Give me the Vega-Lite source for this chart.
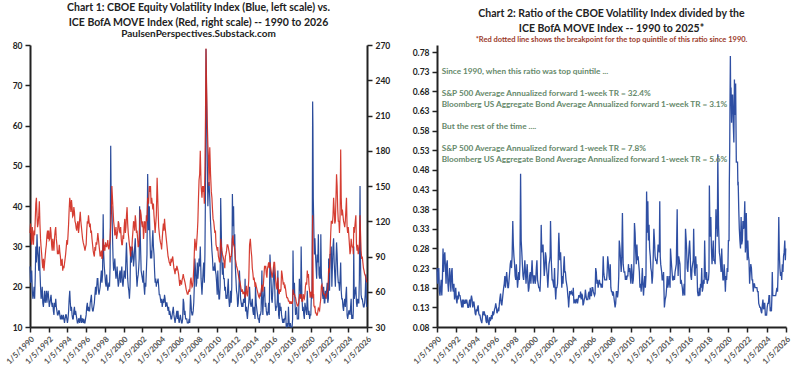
{
"$schema": "https://vega.github.io/schema/vega-lite/v6.json",
"background": "white",
"padding": {"left": 5, "top": 2, "right": 5, "bottom": 0},
"config": {"font": "Lato", "view": {"stroke": null}, "concat": {"spacing": 22},
  "axis": {"grid": false, "domainColor": "#222", "domainWidth": 2, "tickColor": "#222", "tickWidth": 1.5, "tickSize": 5, "labelFontWeight": "bold", "labelColor": "#222", "labelFontSize": 8.5, "labelPadding": 3, "labelOverlap": false},
  "title": {"fontSize": 10.5, "fontWeight": "bold", "color": "#222", "lineHeight": 15, "anchor": "middle", "offset": 2, "subtitlePadding": 1}},
"datasets": {
"s": [
{"d":"1990-01-05","v":25,"m":110,"r":0.23},{"d":"1990-02-20","v":22,"m":105,"r":0.21},{"d":"1990-04-05","v":19,"m":115,"r":0.17},{"d":"1990-05-20","v":18,"m":100,"r":0.18},{"d":"1990-07-05","v":17,"m":108,"r":0.16},{"d":"1990-08-20","v":30,"m":135,"r":0.28},{"d":"1990-10-05","v":33,"m":125,"r":0.26},{"d":"1990-11-20","v":27,"m":118,"r":0.23},
{"d":"1991-01-05","v":30,"m":137,"r":0.24},{"d":"1991-02-20","v":20,"m":105,"r":0.19},{"d":"1991-04-05","v":18,"m":92,"r":0.20},{"d":"1991-05-20","v":16,"m":80,"r":0.20},{"d":"1991-07-05","v":17,"m":78,"r":0.22},{"d":"1991-08-20","v":16,"m":90,"r":0.18},{"d":"1991-10-05","v":19,"m":100,"r":0.19},{"d":"1991-11-20","v":18,"m":112,"r":0.16},
{"d":"1992-01-05","v":17,"m":112,"r":0.15},{"d":"1992-02-20","v":16,"m":105,"r":0.16},{"d":"1992-04-05","v":18,"m":110,"r":0.17},{"d":"1992-05-20","v":15,"m":95,"r":0.16},{"d":"1992-07-05","v":14,"m":100,"r":0.14},{"d":"1992-08-20","v":16,"m":106,"r":0.15},{"d":"1992-10-05","v":17,"m":115,"r":0.15},{"d":"1992-11-20","v":14,"m":100,"r":0.14},
{"d":"1993-01-05","v":13,"m":95,"r":0.14},{"d":"1993-02-20","v":14,"m":100,"r":0.14},{"d":"1993-04-05","v":12,"m":90,"r":0.13},{"d":"1993-05-20","v":13,"m":85,"r":0.15},{"d":"1993-07-05","v":12,"m":78,"r":0.15},{"d":"1993-08-20","v":12,"m":80,"r":0.15},{"d":"1993-10-05","v":12,"m":88,"r":0.14},{"d":"1993-11-20","v":13,"m":98,"r":0.13},
{"d":"1994-01-05","v":11,"m":100,"r":0.11},{"d":"1994-02-20","v":14,"m":118,"r":0.12},{"d":"1994-04-05","v":19,"m":140,"r":0.135},{"d":"1994-05-20","v":14,"m":128,"r":0.11},{"d":"1994-07-05","v":13,"m":132,"r":0.10},{"d":"1994-08-20","v":12,"m":125,"r":0.09},{"d":"1994-10-05","v":15,"m":128,"r":0.12},{"d":"1994-11-20","v":14,"m":118,"r":0.12},
{"d":"1995-01-05","v":12,"m":112,"r":0.11},{"d":"1995-02-20","v":11,"m":120,"r":0.09},{"d":"1995-04-05","v":12,"m":115,"r":0.10},{"d":"1995-05-20","v":12,"m":128,"r":0.085},{"d":"1995-07-05","v":11,"m":115,"r":0.095},{"d":"1995-08-20","v":12,"m":105,"r":0.11},{"d":"1995-10-05","v":12,"m":100,"r":0.12},{"d":"1995-11-20","v":11,"m":95,"r":0.115},
{"d":"1996-01-05","v":13,"m":100,"r":0.13},{"d":"1996-02-20","v":16,"m":120,"r":0.13},{"d":"1996-04-05","v":15,"m":125,"r":0.12},{"d":"1996-05-20","v":14,"m":115,"r":0.12},{"d":"1996-07-05","v":17,"m":110,"r":0.155},{"d":"1996-08-20","v":15,"m":105,"r":0.14},{"d":"1996-10-05","v":14,"m":95,"r":0.15},{"d":"1996-11-20","v":16,"m":90,"r":0.18},
{"d":"1997-01-05","v":20,"m":95,"r":0.21},{"d":"1997-02-20","v":20,"m":100,"r":0.2},{"d":"1997-04-05","v":22,"m":110,"r":0.2},{"d":"1997-05-20","v":18,"m":100,"r":0.18},{"d":"1997-07-05","v":20,"m":90,"r":0.22},{"d":"1997-08-20","v":24,"m":95,"r":0.25},{"d":"1997-10-05","v":23,"m":90,"r":0.26},{"d":"1997-10-30","v":38,"m":105,"r":0.35},{"d":"1997-11-20","v":28,"m":95,"r":0.29},
{"d":"1998-01-05","v":23,"m":95,"r":0.24},{"d":"1998-02-20","v":20,"m":100,"r":0.2},{"d":"1998-04-05","v":21,"m":100,"r":0.21},{"d":"1998-05-20","v":20,"m":98,"r":0.2},{"d":"1998-07-05","v":20,"m":100,"r":0.2},{"d":"1998-08-20","v":55,"m":117,"r":0.47},{"d":"1998-10-05","v":40,"m":150,"r":0.27},{"d":"1998-11-20","v":27,"m":130,"r":0.21},
{"d":"1999-01-05","v":25,"m":115,"r":0.22},{"d":"1999-02-20","v":24,"m":110,"r":0.22},{"d":"1999-04-05","v":23,"m":105,"r":0.22},{"d":"1999-05-20","v":22,"m":112,"r":0.2},{"d":"1999-07-05","v":21,"m":118,"r":0.18},{"d":"1999-08-20","v":24,"m":110,"r":0.22},{"d":"1999-10-05","v":23,"m":105,"r":0.22},{"d":"1999-11-20","v":21,"m":100,"r":0.21},
{"d":"2000-01-05","v":22,"m":105,"r":0.21},{"d":"2000-02-20","v":23,"m":122,"r":0.19},{"d":"2000-04-05","v":27,"m":115,"r":0.23},{"d":"2000-05-20","v":26,"m":132,"r":0.2},{"d":"2000-07-05","v":20,"m":110,"r":0.18},{"d":"2000-08-20","v":17,"m":100,"r":0.17},{"d":"2000-10-05","v":30,"m":90,"r":0.34},{"d":"2000-11-20","v":27,"m":95,"r":0.28},
{"d":"2001-01-05","v":28,"m":112,"r":0.25},{"d":"2001-02-20","v":27,"m":118,"r":0.23},{"d":"2001-04-05","v":32,"m":125,"r":0.26},{"d":"2001-05-20","v":23,"m":110,"r":0.21},{"d":"2001-07-05","v":22,"m":105,"r":0.21},{"d":"2001-08-20","v":25,"m":100,"r":0.25},{"d":"2001-09-21","v":40,"m":115,"r":0.35},{"d":"2001-11-20","v":24,"m":125,"r":0.2},
{"d":"2002-01-05","v":22,"m":115,"r":0.19},{"d":"2002-02-20","v":24,"m":105,"r":0.23},{"d":"2002-04-05","v":18,"m":120,"r":0.15},{"d":"2002-05-20","v":20,"m":110,"r":0.18},{"d":"2002-07-05","v":28,"m":120,"r":0.23},{"d":"2002-08-01","v":48,"m":140,"r":0.32},{"d":"2002-10-05","v":40,"m":150,"r":0.27},{"d":"2002-11-20","v":27,"m":150,"r":0.18},
{"d":"2003-01-05","v":27,"m":140,"r":0.19},{"d":"2003-02-20","v":34,"m":130,"r":0.26},{"d":"2003-04-05","v":28,"m":125,"r":0.22},{"d":"2003-05-20","v":21,"m":110,"r":0.19},{"d":"2003-07-05","v":20,"m":125,"r":0.16},{"d":"2003-08-05","v":21,"m":157,"r":0.13},{"d":"2003-10-05","v":20,"m":115,"r":0.17},{"d":"2003-11-20","v":18,"m":105,"r":0.17},
{"d":"2004-01-05","v":16,"m":100,"r":0.16},{"d":"2004-02-20","v":15,"m":105,"r":0.14},{"d":"2004-04-05","v":17,"m":118,"r":0.15},{"d":"2004-05-20","v":18,"m":122,"r":0.15},{"d":"2004-07-05","v":15,"m":110,"r":0.14},{"d":"2004-08-20","v":16,"m":100,"r":0.16},{"d":"2004-10-05","v":14,"m":90,"r":0.155},{"d":"2004-11-20","v":13,"m":85,"r":0.15},
{"d":"2005-01-05","v":13,"m":82,"r":0.16},{"d":"2005-02-20","v":12,"m":85,"r":0.14},{"d":"2005-04-05","v":14,"m":90,"r":0.155},{"d":"2005-05-20","v":13,"m":80,"r":0.16},{"d":"2005-07-05","v":11,"m":75,"r":0.15},{"d":"2005-08-20","v":13,"m":78,"r":0.165},{"d":"2005-10-05","v":12,"m":80,"r":0.15},{"d":"2005-11-20","v":12,"m":75,"r":0.16},
{"d":"2006-01-05","v":12,"m":65,"r":0.18},{"d":"2006-02-20","v":12,"m":68,"r":0.17},{"d":"2006-04-05","v":11,"m":70,"r":0.16},{"d":"2006-05-20","v":17,"m":75,"r":0.23},{"d":"2006-07-05","v":13,"m":70,"r":0.19},{"d":"2006-08-20","v":12,"m":65,"r":0.18},{"d":"2006-10-05","v":12,"m":60,"r":0.2},{"d":"2006-11-20","v":11,"m":58,"r":0.19},
{"d":"2007-01-05","v":12,"m":62,"r":0.19},{"d":"2007-02-27","v":18,"m":70,"r":0.26},{"d":"2007-04-05","v":14,"m":68,"r":0.21},{"d":"2007-05-20","v":13,"m":65,"r":0.2},{"d":"2007-07-05","v":16,"m":80,"r":0.2},{"d":"2007-08-15","v":27,"m":105,"r":0.26},{"d":"2007-10-05","v":20,"m":95,"r":0.21},{"d":"2007-11-20","v":26,"m":110,"r":0.24},
{"d":"2008-01-05","v":24,"m":140,"r":0.17},{"d":"2008-02-20","v":25,"m":160,"r":0.16},{"d":"2008-03-15","v":30,"m":180,"r":0.17},{"d":"2008-05-20","v":18,"m":140,"r":0.13},{"d":"2008-07-05","v":24,"m":145,"r":0.17},{"d":"2008-08-20","v":21,"m":135,"r":0.155},{"d":"2008-10-05","v":45,"m":210,"r":0.21},{"d":"2008-10-24","v":79,"m":267,"r":0.3},{"d":"2008-11-20","v":65,"m":230,"r":0.28},
{"d":"2009-01-05","v":40,"m":185,"r":0.22},{"d":"2009-02-20","v":46,"m":150,"r":0.37},{"d":"2009-03-20","v":42,"m":183,"r":0.24},{"d":"2009-05-20","v":32,"m":145,"r":0.22},{"d":"2009-07-05","v":27,"m":130,"r":0.21},{"d":"2009-08-20","v":25,"m":120,"r":0.21},{"d":"2009-10-05","v":26,"m":110,"r":0.24},{"d":"2009-11-20","v":23,"m":100,"r":0.23},
{"d":"2010-01-05","v":18,"m":95,"r":0.19},{"d":"2010-02-20","v":20,"m":90,"r":0.22},{"d":"2010-04-05","v":17,"m":85,"r":0.2},{"d":"2010-05-20","v":42,"m":105,"r":0.345},{"d":"2010-07-05","v":26,"m":95,"r":0.27},{"d":"2010-08-20","v":26,"m":90,"r":0.29},{"d":"2010-10-05","v":22,"m":85,"r":0.26},{"d":"2010-11-20","v":20,"m":90,"r":0.22},
{"d":"2011-01-05","v":18,"m":95,"r":0.19},{"d":"2011-02-20","v":20,"m":100,"r":0.2},{"d":"2011-04-05","v":17,"m":95,"r":0.18},{"d":"2011-05-20","v":16,"m":85,"r":0.19},{"d":"2011-07-05","v":16,"m":90,"r":0.18},{"d":"2011-08-20","v":43,"m":105,"r":0.425},{"d":"2011-10-05","v":40,"m":100,"r":0.4},{"d":"2011-11-20","v":33,"m":95,"r":0.34},
{"d":"2012-01-05","v":22,"m":85,"r":0.26},{"d":"2012-02-20","v":18,"m":80,"r":0.22},{"d":"2012-04-05","v":16,"m":75,"r":0.21},{"d":"2012-05-20","v":24,"m":70,"r":0.33},{"d":"2012-07-05","v":17,"m":65,"r":0.26},{"d":"2012-08-20","v":15,"m":60,"r":0.25},{"d":"2012-10-05","v":15,"m":58,"r":0.26},{"d":"2012-11-20","v":16,"m":58,"r":0.28},{"d":"2012-12-28","v":22,"m":55,"r":0.4},
{"d":"2013-02-01","v":14,"m":62,"r":0.24},{"d":"2013-03-10","v":13,"m":58,"r":0.22},{"d":"2013-04-20","v":14,"m":60,"r":0.2},{"d":"2013-06-20","v":20,"m":100,"r":0.13},{"d":"2013-08-20","v":15,"m":95,"r":0.16},{"d":"2013-10-05","v":17,"m":80,"r":0.21},{"d":"2013-11-20","v":13,"m":70,"r":0.19},
{"d":"2014-01-05","v":13,"m":68,"r":0.19},{"d":"2014-02-05","v":20,"m":68,"r":0.28},{"d":"2014-04-05","v":14,"m":62,"r":0.22},{"d":"2014-05-20","v":12,"m":58,"r":0.2},{"d":"2014-07-05","v":11,"m":55,"r":0.2},{"d":"2014-08-20","v":13,"m":57,"r":0.23},{"d":"2014-10-15","v":24,"m":66,"r":0.38},{"d":"2014-11-20","v":13,"m":60,"r":0.21},
{"d":"2015-01-05","v":19,"m":75,"r":0.25},{"d":"2015-02-20","v":15,"m":80,"r":0.19},{"d":"2015-04-05","v":14,"m":75,"r":0.19},{"d":"2015-05-20","v":13,"m":80,"r":0.16},{"d":"2015-07-05","v":16,"m":85,"r":0.19},{"d":"2015-08-25","v":28,"m":85,"r":0.33},{"d":"2015-10-05","v":22,"m":78,"r":0.28},{"d":"2015-11-20","v":16,"m":72,"r":0.22},
{"d":"2016-01-05","v":22,"m":80,"r":0.28},{"d":"2016-02-20","v":22,"m":85,"r":0.26},{"d":"2016-04-05","v":14,"m":70,"r":0.2},{"d":"2016-05-20","v":15,"m":62,"r":0.24},{"d":"2016-06-27","v":24,"m":72,"r":0.33},{"d":"2016-08-20","v":12,"m":58,"r":0.21},{"d":"2016-10-05","v":14,"m":60,"r":0.23},{"d":"2016-11-20","v":13,"m":78,"r":0.17},
{"d":"2017-01-05","v":11,"m":70,"r":0.16},{"d":"2017-02-20","v":11,"m":68,"r":0.16},{"d":"2017-04-05","v":12,"m":65,"r":0.18},{"d":"2017-05-20","v":10,"m":58,"r":0.17},{"d":"2017-07-05","v":11,"m":55,"r":0.2},{"d":"2017-08-15","v":15,"m":52,"r":0.3},{"d":"2017-10-05","v":10,"m":50,"r":0.2},{"d":"2017-11-20","v":10,"m":52,"r":0.19},
{"d":"2018-01-05","v":10,"m":50,"r":0.2},{"d":"2018-02-09","v":29,"m":62,"r":0.44},{"d":"2018-04-05","v":21,"m":58,"r":0.36},{"d":"2018-05-20","v":13,"m":55,"r":0.24},{"d":"2018-07-05","v":15,"m":50,"r":0.3},{"d":"2018-08-20","v":12,"m":48,"r":0.25},{"d":"2018-10-15","v":22,"m":55,"r":0.38},{"d":"2018-11-20","v":20,"m":55,"r":0.36},{"d":"2018-12-24","v":30,"m":58,"r":0.52},
{"d":"2019-01-20","v":18,"m":52,"r":0.34},{"d":"2019-02-20","v":14,"m":52,"r":0.27},{"d":"2019-04-05","v":13,"m":55,"r":0.24},{"d":"2019-05-20","v":16,"m":58,"r":0.28},{"d":"2019-07-05","v":14,"m":68,"r":0.2},{"d":"2019-08-20","v":19,"m":78,"r":0.24},{"d":"2019-10-05","v":13,"m":75,"r":0.17},{"d":"2019-11-20","v":12,"m":60,"r":0.2},
{"d":"2020-01-05","v":13,"m":60,"r":0.22},{"d":"2020-02-20","v":17,"m":55,"r":0.3},{"d":"2020-03-16","v":66,"m":125,"r":0.53},{"d":"2020-04-10","v":42,"m":55,"r":0.77},{"d":"2020-05-05","v":33,"m":48,"r":0.69},{"d":"2020-05-25","v":28,"m":47,"r":0.6},{"d":"2020-07-05","v":28,"m":42,"r":0.67},{"d":"2020-08-20","v":22,"m":40,"r":0.55},{"d":"2020-09-10","v":28,"m":40,"r":0.71},{"d":"2020-10-25","v":33,"m":46,"r":0.7},{"d":"2020-11-20","v":23,"m":45,"r":0.5},
{"d":"2021-01-05","v":25,"m":50,"r":0.5},{"d":"2021-01-29","v":33,"m":55,"r":0.45},{"d":"2021-02-20","v":23,"m":65,"r":0.38},{"d":"2021-04-05","v":18,"m":62,"r":0.3},{"d":"2021-05-20","v":20,"m":58,"r":0.36},{"d":"2021-07-05","v":16,"m":58,"r":0.3},{"d":"2021-08-20","v":17,"m":55,"r":0.33},{"d":"2021-10-05","v":21,"m":60,"r":0.4},{"d":"2021-11-20","v":17,"m":70,"r":0.3},{"d":"2021-12-01","v":27,"m":80,"r":0.37},
{"d":"2022-01-05","v":19,"m":80,"r":0.25},{"d":"2022-02-20","v":28,"m":110,"r":0.26},{"d":"2022-04-05","v":20,"m":120,"r":0.19},{"d":"2022-05-20","v":30,"m":125,"r":0.24},{"d":"2022-07-05","v":26,"m":130,"r":0.2},{"d":"2022-08-20","v":20,"m":120,"r":0.17},{"d":"2022-10-05","v":31,"m":160,"r":0.19},{"d":"2022-11-20","v":23,"m":130,"r":0.18},
{"d":"2023-01-05","v":21,"m":120,"r":0.18},{"d":"2023-02-20","v":22,"m":125,"r":0.17},{"d":"2023-03-15","v":26,"m":181,"r":0.14},{"d":"2023-05-20","v":17,"m":130,"r":0.13},{"d":"2023-07-05","v":14,"m":120,"r":0.115},{"d":"2023-08-20","v":17,"m":115,"r":0.15},{"d":"2023-10-05","v":18,"m":130,"r":0.14},{"d":"2023-11-20","v":13,"m":115,"r":0.11},
{"d":"2024-01-05","v":13,"m":115,"r":0.11},{"d":"2024-02-20","v":14,"m":100,"r":0.14},{"d":"2024-04-05","v":15,"m":95,"r":0.16},{"d":"2024-05-20","v":12,"m":100,"r":0.12},{"d":"2024-07-05","v":12,"m":98,"r":0.12},{"d":"2024-08-06","v":30,"m":115,"r":0.22},{"d":"2024-10-05","v":19,"m":120,"r":0.16},{"d":"2024-11-20","v":16,"m":100,"r":0.16},
{"d":"2025-01-05","v":17,"m":100,"r":0.17},{"d":"2025-02-20","v":16,"m":95,"r":0.17},{"d":"2025-04-08","v":45,"m":125,"r":0.36},{"d":"2025-05-20","v":18,"m":95,"r":0.23},{"d":"2025-07-05","v":17,"m":90,"r":0.22},{"d":"2025-08-20","v":15,"m":80,"r":0.24},{"d":"2025-10-05","v":16,"m":75,"r":0.26},{"d":"2025-11-20","v":23,"m":72,"r":0.3},{"d":"2025-12-26","v":15,"m":68,"r":0.28},
{"d":"1990-01-27","v":21,"m":118,"r":0.19},{"d":"1990-03-13","v":24,"m":100,"r":0.23},{"d":"1990-04-27","v":17,"m":108,"r":0.16},{"d":"1990-06-12","v":20,"m":112,"r":0.2},{"d":"1990-07-27","v":22,"m":120,"r":0.2},{"d":"1990-09-12","v":26,"m":140,"r":0.22},{"d":"1990-10-27","v":29,"m":115,"r":0.27},{"d":"1990-12-12","v":24,"m":125,"r":0.19},
{"d":"1991-01-27","v":24,"m":118,"r":0.25},{"d":"1991-03-13","v":17,"m":98,"r":0.17},{"d":"1991-04-27","v":20,"m":85,"r":0.23},{"d":"1991-06-12","v":15,"m":88,"r":0.17},{"d":"1991-07-27","v":19,"m":84,"r":0.23},{"d":"1991-09-12","v":17,"m":96,"r":0.17},{"d":"1991-10-27","v":16,"m":108,"r":0.15},{"d":"1991-12-12","v":19,"m":105,"r":0.18},
{"d":"1992-01-27","v":15,"m":104,"r":0.14},{"d":"1992-03-13","v":17,"m":115,"r":0.15},{"d":"1992-04-27","v":16,"m":100,"r":0.16},{"d":"1992-06-12","v":16,"m":105,"r":0.15},{"d":"1992-07-27","v":13,"m":95,"r":0.13},{"d":"1992-09-12","v":15,"m":112,"r":0.13},{"d":"1992-10-27","v":15,"m":105,"r":0.14},{"d":"1992-12-12","v":13,"m":92,"r":0.15},
{"d":"1993-01-27","v":14,"m":92,"r":0.15},{"d":"1993-03-13","v":13,"m":94,"r":0.13},{"d":"1993-04-27","v":12,"m":82,"r":0.14},{"d":"1993-06-12","v":12,"m":88,"r":0.13},{"d":"1993-07-27","v":13,"m":82,"r":0.16},{"d":"1993-09-12","v":11,"m":84,"r":0.13},{"d":"1993-10-27","v":13,"m":92,"r":0.145},{"d":"1993-12-12","v":12,"m":104,"r":0.115},
{"d":"1994-01-27","v":12,"m":108,"r":0.125},{"d":"1994-03-13","v":17,"m":130,"r":0.13},{"d":"1994-04-27","v":16,"m":135,"r":0.115},{"d":"1994-06-12","v":15,"m":138,"r":0.11},{"d":"1994-07-27","v":12,"m":124,"r":0.095},{"d":"1994-09-12","v":14,"m":132,"r":0.105},{"d":"1994-10-27","v":13,"m":120,"r":0.11},{"d":"1994-12-12","v":13,"m":114,"r":0.11},
{"d":"1995-01-27","v":11,"m":118,"r":0.095},{"d":"1995-03-13","v":12,"m":110,"r":0.11},{"d":"1995-04-27","v":11,"m":122,"r":0.09},{"d":"1995-06-12","v":13,"m":120,"r":0.105},{"d":"1995-07-27","v":12,"m":110,"r":0.1},{"d":"1995-09-12","v":11,"m":102,"r":0.1},{"d":"1995-10-27","v":11,"m":98,"r":0.11},{"d":"1995-12-12","v":12,"m":98,"r":0.125},
{"d":"1996-01-27","v":15,"m":112,"r":0.14},{"d":"1996-03-13","v":14,"m":118,"r":0.115},{"d":"1996-04-27","v":14,"m":120,"r":0.125},{"d":"1996-06-12","v":16,"m":118,"r":0.14},{"d":"1996-07-27","v":18,"m":112,"r":0.165},{"d":"1996-09-12","v":14,"m":100,"r":0.135},{"d":"1996-10-27","v":15,"m":92,"r":0.165},{"d":"1996-12-12","v":18,"m":98,"r":0.19},
{"d":"1997-01-27","v":18,"m":102,"r":0.18},{"d":"1997-03-13","v":22,"m":104,"r":0.22},{"d":"1997-04-27","v":19,"m":105,"r":0.18},{"d":"1997-06-12","v":19,"m":95,"r":0.2},{"d":"1997-07-27","v":22,"m":92,"r":0.24},{"d":"1997-09-12","v":21,"m":88,"r":0.23},{"d":"1997-12-12","v":25,"m":100,"r":0.26},
{"d":"1998-01-27","v":21,"m":102,"r":0.21},{"d":"1998-03-13","v":23,"m":98,"r":0.24},{"d":"1998-04-27","v":19,"m":104,"r":0.18},{"d":"1998-06-12","v":21,"m":96,"r":0.22},{"d":"1998-07-27","v":25,"m":105,"r":0.24},{"d":"1998-09-12","v":38,"m":125,"r":0.3},{"d":"1998-10-27","v":33,"m":140,"r":0.24},{"d":"1998-12-12","v":24,"m":120,"r":0.2},
{"d":"1999-01-27","v":27,"m":108,"r":0.25},{"d":"1999-03-13","v":22,"m":115,"r":0.19},{"d":"1999-04-27","v":25,"m":108,"r":0.24},{"d":"1999-06-12","v":20,"m":120,"r":0.17},{"d":"1999-07-27","v":23,"m":112,"r":0.21},{"d":"1999-09-12","v":21,"m":115,"r":0.19},{"d":"1999-10-27","v":25,"m":100,"r":0.25},{"d":"1999-12-12","v":20,"m":108,"r":0.19},
{"d":"2000-01-27","v":24,"m":115,"r":0.21},{"d":"2000-03-13","v":22,"m":110,"r":0.2},{"d":"2000-04-27","v":31,"m":125,"r":0.25},{"d":"2000-06-12","v":22,"m":118,"r":0.19},{"d":"2000-07-27","v":19,"m":105,"r":0.18},{"d":"2000-09-12","v":20,"m":95,"r":0.21},{"d":"2000-10-27","v":26,"m":98,"r":0.27},{"d":"2000-12-12","v":30,"m":105,"r":0.29},
{"d":"2001-01-27","v":25,"m":120,"r":0.21},{"d":"2001-03-13","v":30,"m":112,"r":0.27},{"d":"2001-04-27","v":27,"m":120,"r":0.23},{"d":"2001-06-12","v":20,"m":112,"r":0.18},{"d":"2001-07-27","v":23,"m":98,"r":0.24},{"d":"2001-09-05","v":27,"m":105,"r":0.26},{"d":"2001-10-20","v":32,"m":130,"r":0.25},{"d":"2001-12-12","v":23,"m":118,"r":0.2},
{"d":"2002-01-27","v":21,"m":120,"r":0.18},{"d":"2002-03-13","v":20,"m":112,"r":0.18},{"d":"2002-04-27","v":21,"m":118,"r":0.18},{"d":"2002-06-12","v":24,"m":125,"r":0.19},{"d":"2002-07-18","v":38,"m":130,"r":0.29},{"d":"2002-09-05","v":34,"m":135,"r":0.25},{"d":"2002-10-27","v":33,"m":145,"r":0.23},{"d":"2002-12-12","v":29,"m":135,"r":0.21},
{"d":"2003-01-27","v":31,"m":135,"r":0.23},{"d":"2003-03-13","v":30,"m":135,"r":0.22},{"d":"2003-04-27","v":24,"m":118,"r":0.2},{"d":"2003-06-12","v":22,"m":118,"r":0.18},{"d":"2003-07-20","v":21,"m":140,"r":0.15},{"d":"2003-09-12","v":22,"m":130,"r":0.17},{"d":"2003-10-27","v":18,"m":110,"r":0.165},{"d":"2003-12-12","v":17,"m":102,"r":0.165},
{"d":"2004-01-27","v":17,"m":96,"r":0.18},{"d":"2004-03-13","v":16,"m":112,"r":0.145},{"d":"2004-04-27","v":16,"m":112,"r":0.14},{"d":"2004-06-12","v":17,"m":115,"r":0.15},{"d":"2004-07-27","v":16,"m":105,"r":0.15},{"d":"2004-09-12","v":15,"m":95,"r":0.16},{"d":"2004-10-27","v":15,"m":88,"r":0.17},{"d":"2004-12-12","v":14,"m":84,"r":0.165},
{"d":"2005-01-27","v":12,"m":88,"r":0.135},{"d":"2005-03-13","v":13,"m":88,"r":0.15},{"d":"2005-04-27","v":15,"m":85,"r":0.175},{"d":"2005-06-12","v":12,"m":78,"r":0.15},{"d":"2005-07-27","v":12,"m":80,"r":0.15},{"d":"2005-09-12","v":14,"m":82,"r":0.17},{"d":"2005-10-27","v":14,"m":78,"r":0.18},{"d":"2005-12-12","v":11,"m":70,"r":0.16},
{"d":"2006-01-27","v":13,"m":70,"r":0.18},{"d":"2006-03-13","v":11,"m":66,"r":0.165},{"d":"2006-04-27","v":12,"m":72,"r":0.165},{"d":"2006-06-12","v":16,"m":72,"r":0.22},{"d":"2006-07-27","v":14,"m":68,"r":0.2},{"d":"2006-09-12","v":12,"m":62,"r":0.19},{"d":"2006-10-27","v":11,"m":58,"r":0.19},{"d":"2006-12-12","v":11,"m":60,"r":0.18},
{"d":"2007-01-27","v":11,"m":60,"r":0.18},{"d":"2007-03-20","v":16,"m":72,"r":0.22},{"d":"2007-04-27","v":13,"m":64,"r":0.2},{"d":"2007-06-12","v":14,"m":70,"r":0.2},{"d":"2007-07-25","v":20,"m":92,"r":0.22},{"d":"2007-09-12","v":24,"m":100,"r":0.24},{"d":"2007-10-27","v":21,"m":102,"r":0.2},{"d":"2007-12-12","v":22,"m":120,"r":0.18},
{"d":"2008-01-27","v":27,"m":155,"r":0.17},{"d":"2008-04-15","v":22,"m":150,"r":0.15},{"d":"2008-06-12","v":21,"m":150,"r":0.14},{"d":"2008-07-27","v":26,"m":150,"r":0.17},{"d":"2008-09-12","v":28,"m":165,"r":0.17},{"d":"2008-12-12","v":52,"m":205,"r":0.25},
{"d":"2009-01-27","v":45,"m":175,"r":0.26},{"d":"2009-04-20","v":36,"m":160,"r":0.22},{"d":"2009-06-12","v":29,"m":140,"r":0.2},{"d":"2009-07-27","v":24,"m":122,"r":0.2},{"d":"2009-09-12","v":24,"m":115,"r":0.21},{"d":"2009-10-27","v":24,"m":112,"r":0.22},{"d":"2009-12-12","v":21,"m":98,"r":0.21},
{"d":"2010-01-27","v":24,"m":98,"r":0.24},{"d":"2010-03-13","v":17,"m":88,"r":0.19},{"d":"2010-04-27","v":20,"m":88,"r":0.23},{"d":"2010-06-12","v":34,"m":100,"r":0.32},{"d":"2010-07-27","v":23,"m":92,"r":0.24},{"d":"2010-09-12","v":22,"m":88,"r":0.25},{"d":"2010-10-27","v":19,"m":80,"r":0.24},{"d":"2010-12-12","v":17,"m":92,"r":0.18},
{"d":"2011-01-27","v":17,"m":100,"r":0.17},{"d":"2011-03-13","v":22,"m":98,"r":0.23},{"d":"2011-04-27","v":15,"m":92,"r":0.16},{"d":"2011-06-12","v":19,"m":90,"r":0.21},{"d":"2011-07-27","v":20,"m":95,"r":0.21},{"d":"2011-09-12","v":35,"m":108,"r":0.32},{"d":"2011-10-27","v":30,"m":100,"r":0.3},{"d":"2011-12-12","v":25,"m":88,"r":0.28},
{"d":"2012-01-27","v":19,"m":82,"r":0.23},{"d":"2012-03-13","v":15,"m":78,"r":0.19},{"d":"2012-04-27","v":19,"m":72,"r":0.26},{"d":"2012-06-12","v":21,"m":68,"r":0.3},{"d":"2012-07-27","v":16,"m":62,"r":0.25},{"d":"2012-09-12","v":16,"m":62,"r":0.24},{"d":"2012-10-27","v":17,"m":60,"r":0.29},{"d":"2012-12-10","v":17,"m":60,"r":0.27},
{"d":"2013-01-15","v":14,"m":58,"r":0.26},{"d":"2013-02-20","v":15,"m":65,"r":0.23},{"d":"2013-03-28","v":12,"m":56,"r":0.2},{"d":"2013-05-20","v":16,"m":70,"r":0.22},{"d":"2013-07-20","v":16,"m":105,"r":0.15},{"d":"2013-09-12","v":16,"m":90,"r":0.18},{"d":"2013-10-27","v":14,"m":76,"r":0.18},{"d":"2013-12-12","v":15,"m":72,"r":0.21},
{"d":"2014-01-20","v":12,"m":64,"r":0.18},{"d":"2014-03-05","v":16,"m":65,"r":0.25},{"d":"2014-04-27","v":13,"m":60,"r":0.2},{"d":"2014-06-12","v":12,"m":56,"r":0.21},{"d":"2014-07-27","v":13,"m":58,"r":0.22},{"d":"2014-09-12","v":14,"m":60,"r":0.24},{"d":"2014-10-30","v":17,"m":64,"r":0.27},{"d":"2014-12-12","v":17,"m":66,"r":0.26},
{"d":"2015-01-27","v":20,"m":82,"r":0.24},{"d":"2015-03-13","v":16,"m":82,"r":0.2},{"d":"2015-04-27","v":13,"m":72,"r":0.18},{"d":"2015-06-12","v":14,"m":82,"r":0.17},{"d":"2015-07-27","v":13,"m":80,"r":0.16},{"d":"2015-09-20","v":24,"m":80,"r":0.3},{"d":"2015-10-27","v":17,"m":75,"r":0.23},{"d":"2015-12-12","v":19,"m":76,"r":0.25},
{"d":"2016-01-27","v":25,"m":85,"r":0.3},{"d":"2016-03-13","v":16,"m":78,"r":0.21},{"d":"2016-04-27","v":15,"m":65,"r":0.23},{"d":"2016-06-10","v":17,"m":68,"r":0.25},{"d":"2016-07-27","v":13,"m":60,"r":0.22},{"d":"2016-09-12","v":16,"m":62,"r":0.26},{"d":"2016-10-27","v":15,"m":62,"r":0.24},{"d":"2016-12-12","v":12,"m":75,"r":0.16},
{"d":"2017-01-27","v":12,"m":66,"r":0.18},{"d":"2017-03-13","v":12,"m":64,"r":0.19},{"d":"2017-04-27","v":14,"m":62,"r":0.23},{"d":"2017-06-12","v":10,"m":55,"r":0.18},{"d":"2017-07-27","v":10,"m":54,"r":0.19},{"d":"2017-09-12","v":11,"m":52,"r":0.21},{"d":"2017-10-27","v":11,"m":50,"r":0.22},{"d":"2017-12-12","v":10,"m":50,"r":0.2},
{"d":"2018-01-25","v":12,"m":52,"r":0.22},{"d":"2018-03-05","v":18,"m":58,"r":0.31},{"d":"2018-04-27","v":16,"m":56,"r":0.28},{"d":"2018-06-12","v":14,"m":52,"r":0.27},{"d":"2018-07-27","v":12,"m":48,"r":0.25},{"d":"2018-09-15","v":12,"m":50,"r":0.24},{"d":"2018-10-30","v":19,"m":58,"r":0.33},{"d":"2018-12-05","v":17,"m":55,"r":0.31},
{"d":"2019-03-13","v":15,"m":58,"r":0.26},{"d":"2019-04-27","v":12,"m":54,"r":0.22},{"d":"2019-06-12","v":15,"m":65,"r":0.23},{"d":"2019-07-27","v":13,"m":66,"r":0.2},{"d":"2019-09-12","v":15,"m":72,"r":0.21},{"d":"2019-10-27","v":14,"m":65,"r":0.21},{"d":"2019-12-12","v":13,"m":55,"r":0.23},
{"d":"2020-01-27","v":18,"m":58,"r":0.3},{"d":"2020-03-02","v":35,"m":80,"r":0.45},{"d":"2020-03-27","v":60,"m":90,"r":0.65},{"d":"2020-04-22","v":38,"m":58,"r":0.66},{"d":"2020-06-12","v":32,"m":48,"r":0.67},{"d":"2020-07-27","v":25,"m":42,"r":0.6},{"d":"2020-09-28","v":26,"m":42,"r":0.62},{"d":"2020-10-10","v":28,"m":44,"r":0.64},{"d":"2020-12-12","v":22,"m":44,"r":0.5},
{"d":"2021-01-18","v":22,"m":52,"r":0.44},{"d":"2021-03-13","v":21,"m":66,"r":0.33},{"d":"2021-04-27","v":17,"m":60,"r":0.28},{"d":"2021-06-12","v":16,"m":58,"r":0.29},{"d":"2021-07-27","v":19,"m":56,"r":0.35},{"d":"2021-09-12","v":19,"m":58,"r":0.34},{"d":"2021-10-27","v":16,"m":62,"r":0.27},{"d":"2021-12-20","v":21,"m":76,"r":0.3},
{"d":"2022-01-27","v":28,"m":95,"r":0.3},{"d":"2022-03-13","v":30,"m":120,"r":0.25},{"d":"2022-04-27","v":25,"m":118,"r":0.22},{"d":"2022-06-12","v":32,"m":140,"r":0.23},{"d":"2022-07-27","v":23,"m":118,"r":0.2},{"d":"2022-09-12","v":26,"m":140,"r":0.19},{"d":"2022-10-27","v":28,"m":150,"r":0.18},{"d":"2022-12-12","v":21,"m":120,"r":0.18},
{"d":"2023-01-27","v":19,"m":110,"r":0.17},{"d":"2023-04-05","v":19,"m":140,"r":0.135},{"d":"2023-04-27","v":17,"m":125,"r":0.13},{"d":"2023-06-12","v":15,"m":125,"r":0.12},{"d":"2023-07-27","v":16,"m":118,"r":0.135},{"d":"2023-09-12","v":15,"m":120,"r":0.125},{"d":"2023-10-27","v":20,"m":140,"r":0.14},{"d":"2023-12-12","v":12,"m":110,"r":0.11},
{"d":"2024-01-27","v":14,"m":108,"r":0.13},{"d":"2024-03-13","v":13,"m":92,"r":0.14},{"d":"2024-04-27","v":17,"m":105,"r":0.16},{"d":"2024-06-12","v":13,"m":98,"r":0.13},{"d":"2024-07-20","v":14,"m":92,"r":0.15},{"d":"2024-08-25","v":17,"m":110,"r":0.16},{"d":"2024-10-27","v":20,"m":125,"r":0.16},{"d":"2024-12-12","v":15,"m":95,"r":0.16},
{"d":"2025-01-27","v":16,"m":92,"r":0.18},{"d":"2025-03-13","v":22,"m":100,"r":0.22},{"d":"2025-04-27","v":26,"m":110,"r":0.27},{"d":"2025-06-12","v":17,"m":88,"r":0.21},{"d":"2025-07-27","v":16,"m":85,"r":0.2},{"d":"2025-09-12","v":15,"m":78,"r":0.22},{"d":"2025-10-27","v":18,"m":74,"r":0.27},{"d":"2025-12-12","v":16,"m":70,"r":0.25}
],
"notes": [
{"t":"Since 1990, when this ratio was top quintile ...","y":0.73},
{"t":"S&P 500 Average Annualized forward 1-week TR = 32.4%","y":0.673},
{"t":"Bloomberg US Aggregate Bond Average Annualized forward 1-week TR =  3.1%","y":0.645},
{"t":"But the rest of the time ....","y":0.589},
{"t":"S&P 500 Average Annualized forward 1-week TR = 7.8%","y":0.533},
{"t":"Bloomberg US Aggregate Bond Average Annualized forward 1-week TR = 5.6%","y":0.505}
]
},
"hconcat": [
{
 "width": 337, "height": 282,
 "title": {"text": ["Chart 1: CBOE Equity Volatility Index (Blue, left scale) vs.", "ICE BofA MOVE Index (Red, right scale) -- 1990 to 2026"], "subtitle": "PaulsenPerspectives.Substack.com", "subtitleFontSize": 10, "subtitleFontWeight": "bold", "subtitleColor": "#222"},
 "data": {"name": "s"},
 "encoding": {"x": {"field": "d", "type": "temporal", "scale": {"domain": [{"year":1990,"month":1,"date":5},{"year":2026,"month":1,"date":5}]},
   "axis": {"title": null, "format": "%-m/%-d/%Y", "labelAngle": -45, "labelFontSize": 8, "labelColor": "#555", "labelFlush": false, "labelOverlap": false, "tickCount": 100,
    "values": [{"year":1990,"month":1,"date":5},{"year":1992,"month":1,"date":5},{"year":1994,"month":1,"date":5},{"year":1996,"month":1,"date":5},{"year":1998,"month":1,"date":5},{"year":2000,"month":1,"date":5},{"year":2002,"month":1,"date":5},{"year":2004,"month":1,"date":5},{"year":2006,"month":1,"date":5},{"year":2008,"month":1,"date":5},{"year":2010,"month":1,"date":5},{"year":2012,"month":1,"date":5},{"year":2014,"month":1,"date":5},{"year":2016,"month":1,"date":5},{"year":2018,"month":1,"date":5},{"year":2020,"month":1,"date":5},{"year":2022,"month":1,"date":5},{"year":2024,"month":1,"date":5},{"year":2026,"month":1,"date":5}]}}},
 "layer": [
  {"mark": {"type": "line", "color": "#2b4c9b", "strokeWidth": 1.2},
   "encoding": {"y": {"field": "v", "type": "quantitative", "scale": {"domain": [10, 80], "nice": false}, "axis": {"title": null, "format": "d", "labelOverlap": false, "values": [10,20,30,40,50,60,70,80]}}}},
  {"mark": {"type": "line", "color": "#d0281c", "strokeWidth": 1.2, "opacity": 0.9},
   "encoding": {"y": {"field": "m", "type": "quantitative", "scale": {"domain": [30, 270], "nice": false}, "axis": {"title": null, "format": "d", "orient": "right", "labelOverlap": false, "values": [30,60,90,120,150,180,210,240,270]}}}}
 ],
 "resolve": {"scale": {"y": "independent"}}
},
{
 "width": 349, "height": 282,
 "title": {"text": ["Chart 2: Ratio of the CBOE Volatility Index divided by the", "ICE BofA MOVE Index -- 1990 to 2025*"], "subtitle": "*Red dotted line shows the breakpoint for the top quintile of this ratio since 1990.", "subtitleFontSize": 7.5, "subtitleFontWeight": "bold", "subtitleColor": "#9b3b2b"},
 "layer": [
  {"mark": {"type": "rect", "color": "#dcf4ea"},
   "encoding": {"x": {"datum": {"year":1990,"month":3,"date":1}, "type": "temporal", "axis": {"labelOverlap": false, "tickCount": 100}}, "x2": {"datum": {"year":2019,"month":11,"date":1}}, "y": {"datum": 0.757, "type": "quantitative", "axis": {"labelOverlap": false, "tickCount": 100}}, "y2": {"datum": 0.468}}},
  {"data": {"name": "s"}, "mark": {"type": "line", "color": "#2f4fa3", "strokeWidth": 1.3},
   "encoding": {"x": {"field": "d", "type": "temporal", "scale": {"domain": [{"year":1990,"month":1,"date":5},{"year":2026,"month":1,"date":5}]},
     "axis": {"title": null, "format": "%-m/%-d/%Y", "labelAngle": -45, "labelFontSize": 8, "labelColor": "#555", "labelFlush": false, "labelOverlap": false, "tickCount": 100,
      "values": [{"year":1990,"month":1,"date":5},{"year":1992,"month":1,"date":5},{"year":1994,"month":1,"date":5},{"year":1996,"month":1,"date":5},{"year":1998,"month":1,"date":5},{"year":2000,"month":1,"date":5},{"year":2002,"month":1,"date":5},{"year":2004,"month":1,"date":5},{"year":2006,"month":1,"date":5},{"year":2008,"month":1,"date":5},{"year":2010,"month":1,"date":5},{"year":2012,"month":1,"date":5},{"year":2014,"month":1,"date":5},{"year":2016,"month":1,"date":5},{"year":2018,"month":1,"date":5},{"year":2020,"month":1,"date":5},{"year":2022,"month":1,"date":5},{"year":2024,"month":1,"date":5},{"year":2026,"month":1,"date":5}]}},
    "y": {"field": "r", "type": "quantitative", "scale": {"domain": [0.08, 0.798], "nice": false, "zero": false},
     "axis": {"title": null, "format": ".2f", "labelOverlap": false, "tickCount": 100, "values": [0.08,0.13,0.18,0.23,0.28,0.33,0.38,0.43,0.48,0.53,0.58,0.63,0.68,0.73,0.78]}}}},
  {"mark": {"type": "rule", "color": "#5a4630", "strokeWidth": 1.5, "strokeDash": [4, 3]},
   "encoding": {"y": {"datum": 0.257, "type": "quantitative", "axis": {"labelOverlap": false, "tickCount": 100}}}},
  {"data": {"name": "notes"}, "mark": {"type": "text", "align": "left", "baseline": "middle", "fontSize": 8.2, "fontWeight": "bold", "color": "#66896b"},
   "encoding": {"x": {"datum": {"year":1990,"month":7,"date":1}, "type": "temporal", "axis": {"labelOverlap": false, "tickCount": 100}}, "y": {"field": "y", "type": "quantitative", "axis": {"labelOverlap": false, "tickCount": 100}}, "text": {"field": "t"}}},
  {"mark": {"type": "text", "align": "center", "baseline": "middle", "fontSize": 10, "fontWeight": "bold", "color": "#222"},
   "encoding": {"x": {"datum": {"year":2006,"month":8,"date":1}, "type": "temporal", "axis": {"labelOverlap": false, "tickCount": 100}}, "y": {"datum": 0.103, "type": "quantitative", "axis": {"labelOverlap": false, "tickCount": 100}}, "text": {"value": "PaulsenPerspectives.Substack.com"}}}
 ]
}
]
}
